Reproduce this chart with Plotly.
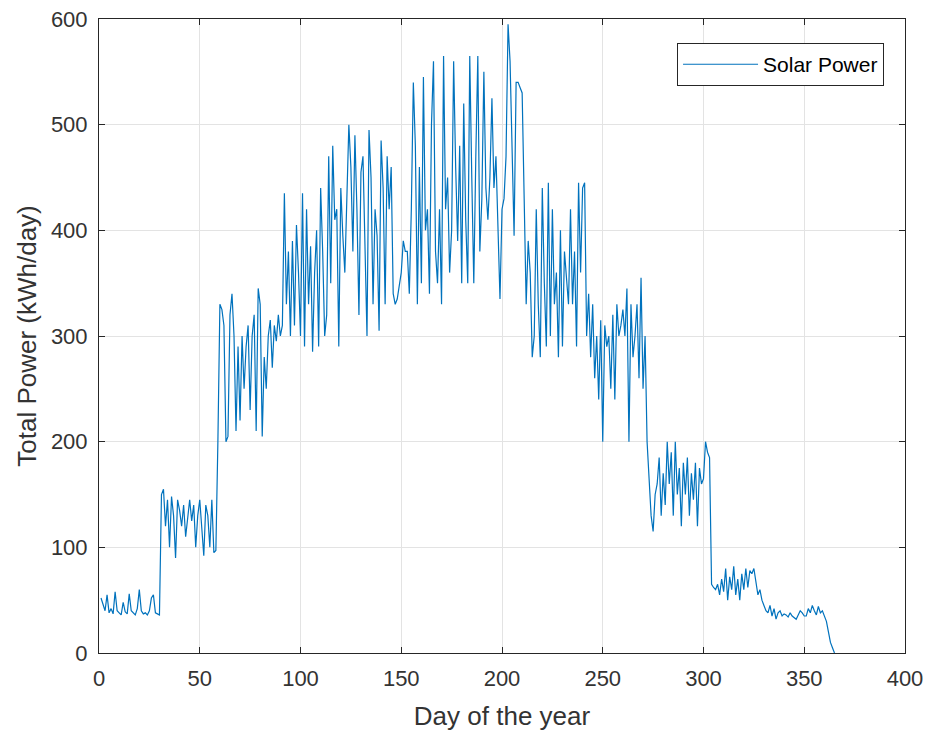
import plotly.graph_objects as go

power = [
    52, 45, 40, 55, 38, 42, 37, 58, 40, 38,
    36, 48, 39, 37, 56, 40, 38, 36, 42, 60,
    40, 37, 38, 36, 40, 52, 55, 38, 37, 36,
    150, 155, 120, 145, 100, 148, 130, 90, 145, 135,
    120, 140, 110, 130, 145, 125, 140, 100, 130, 145,
    120, 92, 140, 130, 100, 145, 95, 97, 200, 330,
    325, 310, 200, 205, 320, 340, 300, 210, 290, 220,
    300, 250, 290, 310, 230, 300, 320, 210, 345, 330,
    205, 280, 250, 300, 315, 270, 310, 295, 320, 300,
    310, 435, 330, 380, 300, 390, 310, 405, 360, 300,
    435, 290, 420, 330, 385, 285, 360, 400, 290, 440,
    380, 300, 320, 470, 350, 480, 410, 420, 290, 440,
    395, 360, 430, 500, 460, 380, 490, 420, 320, 455,
    470, 380, 300, 495, 450, 330, 420, 395, 305, 485,
    440, 330, 470, 420, 460, 340, 330, 335, 350, 360,
    390, 380, 380, 340, 420, 540, 480, 330, 460, 350,
    545, 400, 420, 340, 500, 560, 380, 350, 420, 330,
    565, 420, 450, 360, 400, 560, 460, 390, 480, 350,
    520, 410, 350, 565, 450, 350, 470, 565, 380, 430,
    550, 440, 410, 450, 525, 440, 470, 400, 335, 420,
    430, 470, 595, 560, 470, 395, 540, 540, 535, 530,
    430, 330, 390, 360, 280, 300, 420, 330, 280, 440,
    350, 290, 445, 300, 420, 330, 360, 280, 400, 290,
    380, 350, 330, 420, 330, 380, 290, 445, 360, 440,
    445, 300, 340, 280, 330, 260, 300, 240, 315, 200,
    310, 290, 300, 250, 320, 240, 330, 300, 310, 325,
    300, 345, 200, 330, 280, 300, 330, 260, 355, 250,
    300, 200, 170, 130, 115, 150, 160, 185, 130, 170,
    140, 200, 160, 190, 130, 200, 150, 175, 120, 180,
    150, 185, 130, 170, 145, 180, 120, 175, 160, 165,
    200, 190, 185, 65, 62, 60, 65, 55, 70, 58,
    80, 50, 72, 60, 82, 55, 70, 50, 75, 60,
    80, 62, 78, 75, 80, 68, 55, 60, 50, 45,
    40, 38, 45, 35, 42, 32, 38, 40, 35, 37,
    36, 34, 38, 35, 33, 32, 36, 40, 38, 35,
    35, 42, 38, 45, 40, 36, 44, 38, 40, 35,
    30, 20, 10, 5, 0,
]
days = list(range(1, len(power) + 1))

x_ticks = [0, 50, 100, 150, 200, 250, 300, 350, 400]
y_ticks = [0, 100, 200, 300, 400, 500, 600]

FONT = "Liberation Sans, Arial"
TXT = "#333333"

fig = go.Figure()
fig.add_trace(go.Scatter(
    x=days, y=power, mode="lines", name="Solar Power",
    line=dict(color="#0072BD", width=1.2),
))

axis_common = dict(
    showgrid=True, gridcolor="#E3E3E3", gridwidth=1,
    showline=True, linecolor="#262626", linewidth=1, mirror="allticks",
    ticks="inside", ticklen=6, tickcolor="#262626",
    zeroline=False, automargin=False,
    tickfont=dict(family=FONT, size=22, color=TXT),
)

fig.update_layout(
    width=930, height=736,
    margin=dict(l=99, r=25, t=19, b=83, autoexpand=False),
    paper_bgcolor="white", plot_bgcolor="white",
    font=dict(family=FONT, color=TXT),
    xaxis=dict(range=[0, 400], tickvals=x_ticks, ticklabelstandoff=6,
               title=dict(text="Day of the year", font=dict(size=26, color=TXT), standoff=16),
               **axis_common),
    yaxis=dict(range=[0, 600], tickvals=y_ticks, ticklabelstandoff=6,
               title=dict(text="Total Power (kWh/day)", font=dict(size=26, color=TXT), standoff=6),
               **axis_common),
    showlegend=True,
    legend=dict(x=0.974, y=0.962, xanchor="right", yanchor="top",
                bordercolor="#262626", borderwidth=1, bgcolor="white",
                itemwidth=75, tracegroupgap=0,
                font=dict(family=FONT, size=21, color="#000000")),
)

fig.write_html("out.html")
